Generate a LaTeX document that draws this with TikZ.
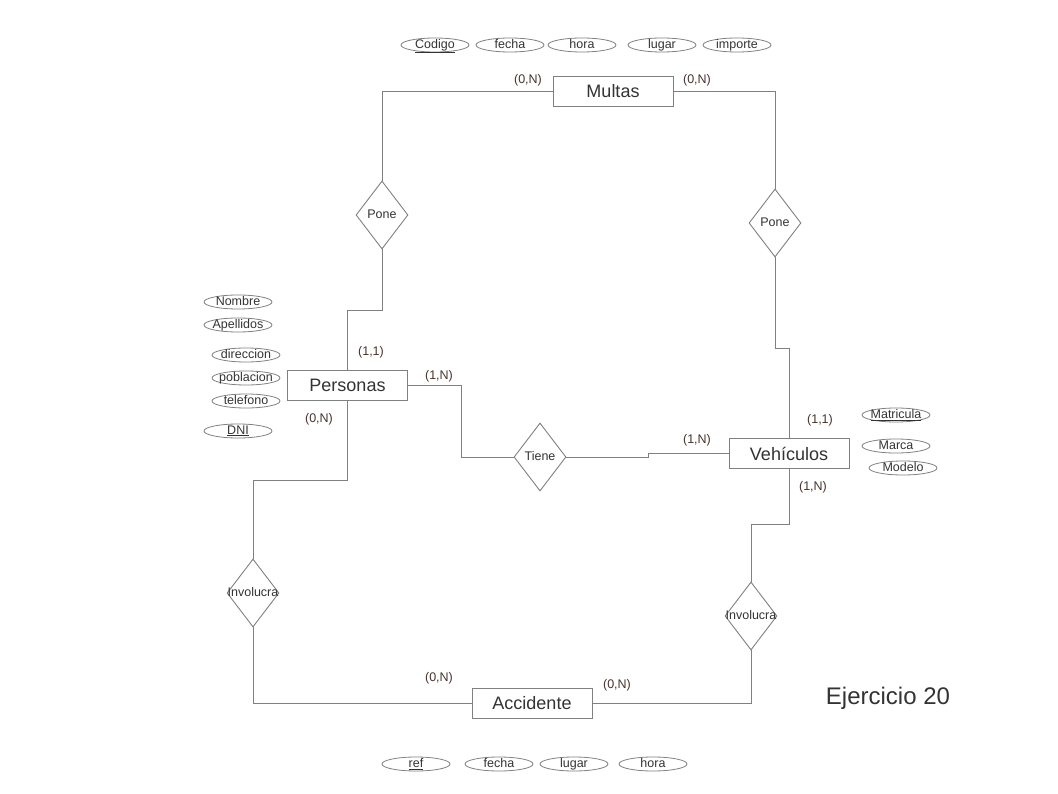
\documentclass[tikz,border=0pt]{standalone}
\usepackage{fontspec}
\usetikzlibrary{shapes.geometric}
\newfontfamily\erfont{Liberation Sans}
\definecolor{erLine}{HTML}{808080}
\definecolor{erInk}{HTML}{333333}
\definecolor{erCard}{HTML}{45332C}
\newcommand{\ERType}{\erfont\fontsize{12.5}{14}\selectfont}
\tikzset{er/base/.style={x=1pt,y=-1pt,
  every node/.style={font=\ERType,inner sep=0pt,text=erInk},
  every label/.style={text height=9pt,text depth=2.5pt}},
  er/link/.style={draw=erLine,line width=.9pt},
  er/entity/.style={draw=erLine,fill=white,line width=.9pt,minimum width=120pt,
    minimum height=30pt,font=\erfont\fontsize{18}{20}\selectfont},
  er/rel/.style={diamond,draw=erLine,fill=white,line width=.9pt,minimum width=52pt,
    minimum height=68pt},
  er/attr/.style={ellipse,draw=erLine,line width=.8pt,minimum width=68pt,
    minimum height=14pt},
  er/card/.style={text=erCard}}

\begin{document}
\begin{tikzpicture}[er/base]
  \useasboundingbox (0,0) rectangle (1058,794);
  % entities
  \node[er/entity] (multas) at (613,91) {Multas};
  \node[er/entity] (personas) at (347.5,385.5) {Personas};
  \node[er/entity] (vehiculos) at (789,453.5) {Vehículos};
  \node[er/entity] (accidente) at (532,703) {Accidente};
  % relationships, text kept outside the diamond size
  \node[er/rel,label={center:Pone}] (ponePer) at (382,215) {};
  \node[er/rel,label={center:Pone}] (poneVeh) at (775,223) {};
  \node[er/rel,label={center:Tiene}] (tiene) at (540,457) {};
  \node[er/rel,label={center:Involucra}] (invPer) at (253,593) {};
  \node[er/rel,label={center:Involucra}] (invVeh) at (751,616) {};
  % connectors
  \draw[er/link] (multas.west) -| (ponePer.north);
  \draw[er/link] (ponePer.south) -- ++(0,61) -| (personas.north);
  \draw[er/link] (multas.east) -| (poneVeh.north);
  \draw[er/link] (poneVeh.south) -- ++(0,91) -| (vehiculos.north);
  \draw[er/link] (personas.east) -- ++(53,0) |- (tiene.west);
  \draw[er/link] (tiene.east) -- ++(82,0) |- (vehiculos.west);
  \draw[er/link] (personas.south) -- ++(0,79) -| (invPer.north);
  \draw[er/link] (invPer.south) |- (accidente.west);
  \draw[er/link] (vehiculos.south) -- ++(0,55) -| (invVeh.north);
  \draw[er/link] (invVeh.south) |- (accidente.east);
  % cardinalities
  \node[er/card] (cMulP) at (528,80) {(0,N)};
  \node[er/card] (cMulV) at (697,80) {(0,N)};
  \node[er/card] (cPerM) at (371,352) {(1,1)};
  \node[er/card] (cPerT) at (439,376) {(1,N)};
  \node[er/card] (cPerA) at (319,419) {(0,N)};
  \node[er/card] (cVehM) at (820,420) {(1,1)};
  \node[er/card] (cVehT) at (697,440) {(1,N)};
  \node[er/card] (cVehA) at (813,487) {(1,N)};
  \node[er/card] (cAccP) at (439,678) {(0,N)};
  \node[er/card] (cAccV) at (617,685) {(0,N)};
  % attributes
  \foreach \x/\lab/\nm in {435/\underline{Codigo}/mCod,510/fecha/mFec,582/hora/mHor,
      662/lugar/mLug,737/importe/mImp}
    \node[er/attr,label={center:\lab}] (\nm) at (\x,45) {};
  \foreach \x/\y/\lab/\nm in {238/302/Nombre/pNom,238/325/Apellidos/pApe,
      246/355/direccion/pDir,246/378/poblacion/pPob,246/401/telefono/pTel,
      238/431/\underline{DNI}/pDni}
    \node[er/attr,label={center:\lab}] (\nm) at (\x,\y) {};
  \foreach \x/\y/\lab/\nm in {896/415/\underline{Matricula}/vMat,896/446/Marca/vMar,
      903/468/Modelo/vMod}
    \node[er/attr,label={center:\lab}] (\nm) at (\x,\y) {};
  \foreach \x/\lab/\nm in {416/\underline{ref}/aRef,499/fecha/aFec,574/lugar/aLug,
      653/hora/aHor}
    \node[er/attr,label={center:\lab}] (\nm) at (\x,764) {};
  \node[font=\erfont\fontsize{24}{28}\selectfont] (titulo) at (888,698) {Ejercicio 20};
\end{tikzpicture}
\end{document}
